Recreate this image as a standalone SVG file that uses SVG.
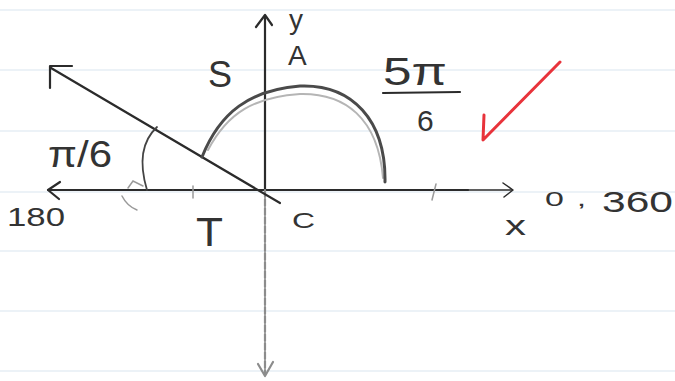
<svg xmlns="http://www.w3.org/2000/svg" width="675" height="381" viewBox="0 0 675 381">
<style>
.rule{stroke:#d9e6ef;stroke-width:1.2}
.ink{fill:none;stroke:#2b2b2b;stroke-width:2.2;stroke-linecap:round;stroke-linejoin:round}
.faint{fill:none;stroke:#9a9a9a;stroke-width:1.5;stroke-linecap:round}
.gray{fill:none;stroke:#8c8c8c;stroke-width:2.2;stroke-linecap:round;stroke-linejoin:round}
.t{font-family:"Liberation Sans",Arial,sans-serif;fill:#333}
</style>
<rect width="675" height="381" fill="#ffffff"/>
<g id="paper">
<line class="rule" x1="0" y1="10" x2="675" y2="10"/>
<line class="rule" x1="0" y1="70" x2="675" y2="70"/>
<line class="rule" x1="0" y1="131" x2="675" y2="131"/>
<line class="rule" x1="0" y1="192" x2="675" y2="192"/>
<line class="rule" x1="0" y1="251" x2="675" y2="251"/>
<line class="rule" x1="0" y1="311" x2="675" y2="311"/>
<line class="rule" x1="0" y1="371" x2="675" y2="371"/>
</g>
<g id="axes">
<line class="ink" x1="48" y1="190" x2="468" y2="190"/>
<line class="ink" x1="468" y1="190" x2="512" y2="190" style="stroke-width:1.5"/>
<path class="ink" d="M503,183 L513,190 L504,197" style="stroke-width:1.5"/>
<path class="ink" d="M60,182 L48,190 L59,199"/>
<line class="ink" x1="265" y1="16" x2="265" y2="190"/>
<path class="ink" d="M256,27 L265,15 L272,25"/>
<line class="gray" x1="265" y1="190" x2="265" y2="375" style="stroke-dasharray:7 2"/>
<path class="gray" d="M258,364 L265,376 L273,362"/>
<line class="faint" x1="193" y1="186" x2="193" y2="198"/>
<line class="faint" x1="436" y1="184" x2="432" y2="200"/>
</g>
<g id="ray">
<line class="ink" x1="51" y1="68" x2="280" y2="203"/>
<path class="ink" d="M50,88 L50,66 L72,66"/>
</g>
<g id="curve">
<path class="faint" d="M208,150 C228,112 255,97 300,94 C345,93 378,118 383,178" style="stroke:#b5b5b5;stroke-width:2"/>
<path d="M202,157 C220,112 250,90 300,86 C352,84 386,120 385,182" fill="none" stroke="#4a4a4a" stroke-width="3" stroke-linecap="round"/>
</g>
<g id="angle">
<path class="ink" d="M157,127 C143,140 138,160 147,190" style="stroke:#444;stroke-width:1.8"/>
<path class="faint" d="M122,196 C126,204 132,208 137,210"/>
<path class="faint" d="M128,188 L133,181 L143,186"/>
</g>
<g id="labels">
<text class="t" x="289" y="29" font-size="28">y</text>
<text class="t" x="288" y="65" font-size="28">A</text>
<text class="t" x="208" y="87" font-size="36">S</text>
<text class="t" x="48" y="167" font-size="36" textLength="64" lengthAdjust="spacingAndGlyphs">π/6</text>
<text class="t" x="383" y="85" font-size="38" textLength="64" lengthAdjust="spacingAndGlyphs">5π</text>
<line class="ink" x1="383" y1="93" x2="460" y2="92"/>
<text class="t" x="417" y="131" font-size="30">6</text>
<text class="t" x="7" y="226" font-size="25" textLength="58" lengthAdjust="spacingAndGlyphs">180</text>
<text class="t" x="196" y="246" font-size="40" textLength="27" lengthAdjust="spacingAndGlyphs">T</text>
<text class="t" x="292" y="228" font-size="22" textLength="23" lengthAdjust="spacingAndGlyphs">C</text>
<text class="t" x="505" y="235" font-size="28" textLength="21" lengthAdjust="spacingAndGlyphs">x</text>
<text class="t" transform="translate(545,206) scale(1.7,1)" font-size="20" letter-spacing="7.5">0,</text>
<text class="t" x="602" y="212" font-size="30" textLength="71" lengthAdjust="spacingAndGlyphs">360</text>
</g>
<g id="check">
<path d="M484,115 L483,140 L560,62" fill="none" stroke="#e8333b" stroke-width="3" stroke-linecap="round" stroke-linejoin="round"/>
</g>
</svg>
